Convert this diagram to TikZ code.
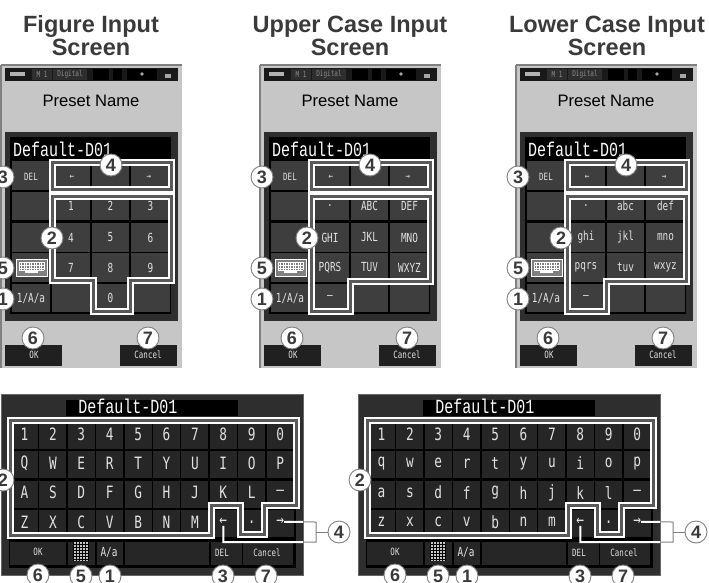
\documentclass[tikz,border=0pt]{standalone}
\usepackage{fontspec}
\setmainfont{Liberation Sans}
\newfontfamily\lcdfont[FakeStretch=0.75]{DejaVu Sans Mono}
\newfontfamily\entryfont[FakeStretch=0.75]{Liberation Mono}
\usepackage{tikz}
\definecolor{screengray}{HTML}{C6C6C6}
\definecolor{panelgray}{HTML}{2E2E2E}
\definecolor{cellgray}{HTML}{3E3E3E}
\definecolor{widecell}{HTML}{262626}
\definecolor{keytext}{HTML}{E2E2E2}
\definecolor{inkgray}{HTML}{3A3A3A}
\tikzset{
	title/.style={font=\fontsize{23.5}{23}\selectfont\bfseries,text=inkgray,align=center},
	callout/.style={circle,draw=gray,line width=0.9pt,fill=white,minimum size=22pt,inner sep=0pt,text=inkgray,font=\fontsize{18}{18}\selectfont\bfseries},
	outline/.style={draw=white,line width=2pt,double=gray!70!black,double distance=3pt,line join=miter},
	smallkey/.style={font=\lcdfont\fontsize{10}{10}\selectfont,text=keytext,inner sep=0pt},
	midkey/.style={font=\lcdfont\fontsize{12.5}{12.5}\selectfont,text=keytext,inner sep=0pt},
	bigkey/.style={font=\lcdfont\fontsize{17}{17}\selectfont,text=keytext,inner sep=0pt},
	entry/.style={font=\entryfont\fontsize{20}{20}\selectfont,text=white,inner sep=0pt},
	statustext/.style={font=\lcdfont\fontsize{8}{8}\selectfont,text=gray!90,inner sep=0pt}
}
% one tall input screen, #1 = list of col/row/label
\newcommand{\inputscreen}[1]{
	\fill[screengray] (1,65) rectangle (182,368);
	\fill[gray] (0,65) rectangle (1.5,368);
	\fill[gray] (1,64.5) rectangle (182,66);
	% status bar
	\fill[black!90] (5,68) rectangle (178,81);
	\fill[gray!60] (10,72) rectangle (25,76);
	\fill[panelgray] (32,69) rectangle (52,80);
	\fill[panelgray] (53,69) rectangle (87,80);
	\fill[black] (93,69) rectangle (109,80);
	\fill[black] (113,69) rectangle (122,80);
	\fill[black] (127,69) rectangle (157,80);
	\fill[gray!70] (142,74) circle (1.8);
	\fill[gray!70] (165,74) rectangle (171,78);
	\node[statustext] (mode) at (42,74.5) {M 1};
	\node[statustext] (digital) at (70,74.5) {Digital};
	\node[font=\fontsize{16.6}{17}\selectfont,text=black,inner sep=0pt] (preset) at (91,101) {Preset Name};
	% entry field and key grid
	\fill[panelgray] (5,132) rectangle (178,321);
	\fill[black] (10,137) rectangle (171,314);
	\foreach \r/\rtop/\rbot in {0/161/190,1/192/220,2/223/252,3/253/282,4/284/312}
		\foreach \c/\cl/\cr in {0/12/50,1/52/90,2/92/129,3/131/170}{
			\fill[cellgray] (\cl,\rtop) rectangle (\cr,\rbot);
			\coordinate (key\c\r) at ({(\cl+\cr)/2},{(\rtop+\rbot)/2});
		}
	\node[entry,anchor=base west] (field) at (13,157) {Default-D01};
	\foreach \c/\r/\kt in {#1}
		\node[midkey] (lbl\c\r) at (key\c\r) {\kt};
	\node[smallkey] (del) at (31,177) {DEL};
	\node[smallkey] (left) at (72,177) {←};
	\node[smallkey] (right) at (149,177) {→};
	\node[midkey] (mode) at (31,299) {1/A/a};
	\draw[white,fill=gray,line width=1pt] (16,259) rectangle (47,276);
	\foreach \x in {19,21.5,...,44}
		\draw[white,line width=0.5pt] (\x,262) -- (\x,270);
	\foreach \y in {262,265,268,270}
		\draw[white,line width=0.5pt] (19,\y) -- (44,\y);
	\fill[white] (25,271) rectangle (38,273);
	% soft keys
	\fill[panelgray!70!black] (5,345) rectangle (62,366);
	\fill[panelgray!70!black] (120,345) rectangle (177,366);
	\node[smallkey] (ok) at (34,355) {OK};
	\node[smallkey] (cancel) at (148,355) {Cancel};
	\node[callout] (three) at (3,177) {3};
	\node[callout] (five) at (3,268) {5};
	\node[callout] (one) at (3,299) {1};
	\node[callout] (six) at (33,338) {6};
	\node[callout] (seven) at (148,338) {7};
	\draw[outline] (52,162) rectangle (171,189.5);
	\node[callout] (four) at (111,165) {4};
}
% wide keyboard screen
\newcommand{\keyrow}[2]{
	\foreach \kt [count=\c from 0] in {#2}
		\node[bigkey] (key#1\c) at ({24.5+\c*28.4},{434+#1*29.3}) {\kt};
}
\newcommand{\widescreen}{
	\fill[panelgray] (1,394) rectangle (303,575);
	\draw[gray!80!black,line width=0.5pt] (1,394) rectangle (303,575);
	\fill[black] (66,400) rectangle (238,416);
	\fill[black] (9,419) rectangle (296,568);
	\foreach \r in {0,1,2,3}
		\foreach \c in {0,...,9}
			\fill[widecell] ({24.5+\c*28.4-13.5},{435+\r*29.5-13.5}) rectangle ({24.5+\c*28.4+13.5},{435+\r*29.5+13.5});
	\foreach \cl/\cr in {10/66,68/95,97/123,125/209,211/242,243/293}
		\fill[widecell] (\cl,542) rectangle (\cr,565);
	\node[entry,anchor=base] (field) at (128,413) {Default-D01};
	\node[smallkey] (ok) at (38,552) {OK};
	\node[midkey] (mode) at (109,553) {A/a};
	\node[smallkey] (del) at (222,553) {DEL};
	\node[smallkey] (cancel) at (267,553) {Cancel};
	\fill[gray!45] (73,542) rectangle (88,561);
	\foreach \x in {73,76,...,88}
		\draw[black,line width=0.5pt] (\x,542) -- (\x,561);
	\foreach \y in {544,547,...,561}
		\draw[black,line width=0.5pt] (73,\y) -- (88,\y);
}
% callouts and outlines common to both wide screens
\newcommand{\widemarks}{
	\draw[outline] (10,420) -- (296,420) -- (296,505.5) -- (264.5,505.5) -- (264.5,534.5) -- (240.5,534.5) -- (240.5,505.5) -- (211.5,505.5) -- (211.5,535) -- (10,535) -- cycle;
	\node[callout] (two) at (3,480) {2};
	\node[callout] (four) at (339,532) {4};
	\node[callout] (six) at (38,575) {6};
	\node[callout] (five) at (81,576) {5};
	\node[callout] (one) at (110,576) {1};
	\node[callout] (three) at (223,576) {3};
	\node[callout] (seven) at (266,576) {7};
	\coordinate (bendtop) at (316,522);
	\coordinate (bendlow) at (316,542);
	\coordinate (bendmid) at (316,532);
	\draw[gray,line width=1pt] (key39.east) -- (bendtop) -- (bendlow) -- (key37 |- bendlow) -- (key37.south);
	\draw[gray,line width=1pt] (bendmid) -- (four);
	\begin{scope}
		\clip (1,394) rectangle (303,575);
		\draw[white,line width=2pt] (key39.east) -- (bendtop) -- (bendlow) -- (key37 |- bendlow) -- (key37.south);
	\end{scope}
}
\begin{document}
\begin{tikzpicture}[x=1pt,y=-1pt]
	\useasboundingbox (0,0) rectangle (709,583);
	\node[title] (figure) at (91,36) {Figure Input\\Screen};
	\node[title] (upper) at (350,36) {Upper Case Input\\Screen};
	\node[title] (lower) at (607,36) {Lower Case Input\\Screen};
	% figure input
	\begin{scope}[name prefix=fig-]
		\inputscreen{1/1/1,2/1/2,3/1/3,1/2/4,2/2/5,3/2/6,1/3/7,2/3/8,3/3/9,2/4/0}
		\draw[outline] (52,196) -- (171,196) -- (171,280.5) -- (130.5,280.5) -- (130.5,311.5) -- (93,311.5) -- (93,280.5) -- (52,280.5) -- cycle;
		\node[callout] (two) at (52,238) {2};
	\end{scope}
	% upper case input
	\begin{scope}[shift={(259,0)},name prefix=up-]
		\inputscreen{1/1/.,2/1/ABC,3/1/DEF,1/2/GHI,2/2/JKL,3/2/MNO,1/3/PQRS,2/3/TUV,3/3/WXYZ,1/4/–}
		\draw[outline] (52,196) -- (171,196) -- (171,281) -- (91.5,281) -- (91.5,311.5) -- (52,311.5) -- cycle;
		\node[callout] (two) at (48,238) {2};
	\end{scope}
	% lower case input
	\begin{scope}[shift={(515,0)},name prefix=low-]
		\inputscreen{1/1/.,2/1/abc,3/1/def,1/2/ghi,2/2/jkl,3/2/mno,1/3/pqrs,2/3/tuv,3/3/wxyz,1/4/–}
		\draw[outline] (52,196) -- (171,196) -- (171,281) -- (91.5,281) -- (91.5,311.5) -- (52,311.5) -- cycle;
		\node[callout] (two) at (46,238) {2};
	\end{scope}
	% wide keyboards
	\begin{scope}[name prefix=wideup-]
		\widescreen
		\keyrow{0}{1,2,3,4,5,6,7,8,9,0}
		\keyrow{1}{Q,W,E,R,T,Y,U,I,O,P}
		\keyrow{2}{A,S,D,F,G,H,J,K,L,–}
		\keyrow{3}{Z,X,C,V,B,N,M,←,.,→}
		\widemarks
	\end{scope}
	\begin{scope}[shift={(357,0)},name prefix=widelow-]
		\widescreen
		\keyrow{0}{1,2,3,4,5,6,7,8,9,0}
		\keyrow{1}{q,w,e,r,t,y,u,i,o,p}
		\keyrow{2}{a,s,d,f,g,h,j,k,l,–}
		\keyrow{3}{z,x,c,v,b,n,m,←,.,→}
		\widemarks
	\end{scope}
\end{tikzpicture}
\end{document}
